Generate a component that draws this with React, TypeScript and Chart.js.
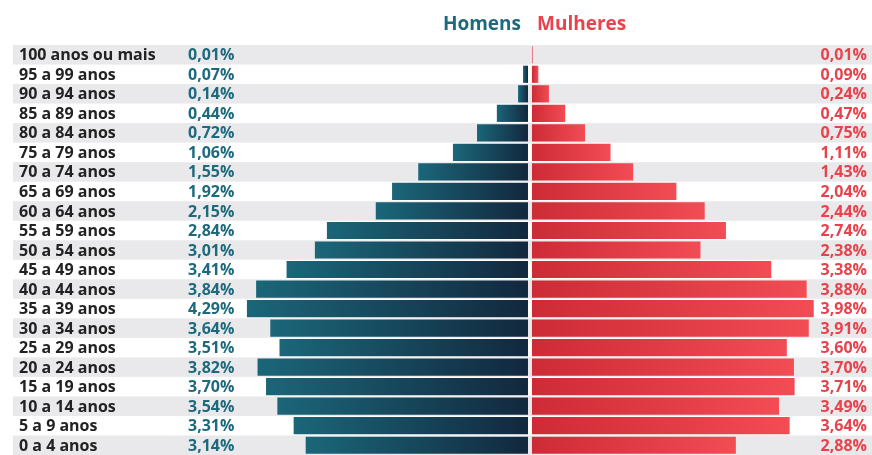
import React, { useEffect, useRef } from "react";
import { Chart, registerables } from "chart.js";

Chart.register(...registerables);

const categories = [
  "100 anos ou mais", "95 a 99 anos", "90 a 94 anos", "85 a 89 anos", "80 a 84 anos",
  "75 a 79 anos", "70 a 74 anos", "65 a 69 anos", "60 a 64 anos", "55 a 59 anos",
  "50 a 54 anos", "45 a 49 anos", "40 a 44 anos", "35 a 39 anos", "30 a 34 anos",
  "25 a 29 anos", "20 a 24 anos", "15 a 19 anos", "10 a 14 anos", "5 a 9 anos", "0 a 4 anos",
];

// bar lengths as drawn in the picture (%)
const menBars = [0.0, 0.07, 0.14, 0.44, 0.72, 1.06, 1.55, 1.92, 2.15, 2.84, 3.01, 3.41, 3.84, 3.97, 3.64, 3.51, 3.82, 3.70, 3.54, 3.31, 3.14];
const womenBars = [0.01, 0.09, 0.24, 0.47, 0.75, 1.11, 1.43, 2.04, 2.44, 2.74, 2.38, 3.38, 3.88, 3.98, 3.91, 3.60, 3.70, 3.71, 3.49, 3.64, 2.88];

// printed labels
const menLabels = ["0,01%", "0,07%", "0,14%", "0,44%", "0,72%", "1,06%", "1,55%", "1,92%", "2,15%", "2,84%", "3,01%", "3,41%", "3,84%", "4,29%", "3,64%", "3,51%", "3,82%", "3,70%", "3,54%", "3,31%", "3,14%"];
const womenLabels = ["0,01%", "0,09%", "0,24%", "0,47%", "0,75%", "1,11%", "1,43%", "2,04%", "2,44%", "2,74%", "2,38%", "3,38%", "3,88%", "3,98%", "3,91%", "3,60%", "3,70%", "3,71%", "3,49%", "3,64%", "2,88%"];

const legendLabels = ["Homens", "Mulheres"];

const TEAL = "#1d6a7e";
const RED = "#e8434c";
const FONT = "'Open Sans', sans-serif";

export default function App() {
  const ref = useRef<HTMLCanvasElement | null>(null);

  useEffect(() => {
    if (!ref.current) return;

    const decor = {
      id: "decor",
      beforeDatasetsDraw(chart: any) {
        const { ctx, chartArea } = chart;
        const y = chart.scales.y;
        const band = y.getPixelForValue(1) - y.getPixelForValue(0);
        ctx.save();
        ctx.fillStyle = "#e9e9eb";
        categories.forEach((_, i) => {
          if (i % 2 === 0) {
            const c = y.getPixelForValue(i);
            ctx.fillRect(chartArea.left, c - band / 2, chartArea.right - chartArea.left, band);
          }
        });
        ctx.restore();
      },
      afterDatasetsDraw(chart: any) {
        const { ctx, chartArea } = chart;
        const y = chart.scales.y;
        ctx.save();
        ctx.textBaseline = "middle";
        categories.forEach((cat, i) => {
          const c = y.getPixelForValue(i) + 1;
          ctx.font = `700 16px ${FONT}`;
          ctx.fillStyle = "#222222";
          ctx.textAlign = "left";
          ctx.fillText(cat, 19, c);
          ctx.fillStyle = TEAL;
          ctx.fillText(menLabels[i], 188, c);
          ctx.fillStyle = RED;
          ctx.textAlign = "right";
          ctx.fillText(womenLabels[i], chartArea.right - 5, c);
        });
        ctx.font = `700 19px ${FONT}`;
        ctx.fillStyle = TEAL;
        ctx.textAlign = "right";
        ctx.fillText(legendLabels[0], 521, 25);
        ctx.fillStyle = RED;
        ctx.textAlign = "left";
        ctx.fillText(legendLabels[1], 537, 25);
        ctx.restore();
      },
    };

    const grad = (axisId: string, from: string, to: string, sign: number) => (context: any) => {
      const chart = context.chart;
      if (!chart.chartArea) return from;
      const sc = chart.scales[axisId];
      const v = context.raw as number;
      const x0 = sc.getPixelForValue(0);
      const x1 = sc.getPixelForValue(v);
      if (!isFinite(x0) || !isFinite(x1) || Math.abs(x1 - x0) < 0.5) return sign < 0 ? to : from;
      const g = chart.ctx.createLinearGradient(Math.min(x0, x1), 0, Math.max(x0, x1), 0);
      g.addColorStop(0, from);
      g.addColorStop(1, to);
      return g;
    };

    const chart = new Chart(ref.current, {
      type: "bar",
      data: {
        labels: categories,
        datasets: [
          {
            label: legendLabels[0],
            data: menBars.map((v) => -v),
            xAxisID: "xM",
            backgroundColor: grad("xM", "#1b6679", "#12283e", -1),
            barPercentage: 0.88,
            categoryPercentage: 1,
            grouped: false,
            borderWidth: 0,
          } as any,
          {
            label: legendLabels[1],
            data: womenBars,
            xAxisID: "xF",
            backgroundColor: grad("xF", "#cd2b36", "#f24c55", 1),
            barPercentage: 0.88,
            categoryPercentage: 1,
            grouped: false,
            borderWidth: 0,
          } as any,
        ],
      },
      options: {
        indexAxis: "y",
        animation: false,
        responsive: true,
        maintainAspectRatio: false,
        layout: { padding: { left: 13, right: 0, top: 45, bottom: 0 } },
        plugins: { legend: { display: false }, tooltip: { enabled: false } },
        scales: {
          y: { display: false, offset: true, grid: { display: false } },
          xM: { type: "linear", axis: "x", display: false, min: -7.274, max: 4.859 } as any,
          xF: { type: "linear", axis: "x", display: false, min: -7.33, max: 4.803 } as any,
        },
      },
      plugins: [decor],
    });
    return () => chart.destroy();
  }, []);

  return (
    <div style={{ position: "fixed", left: 0, top: 0, width: 872, height: 455, background: "#ffffff" }}>
      <canvas ref={ref} />
    </div>
  );
}
